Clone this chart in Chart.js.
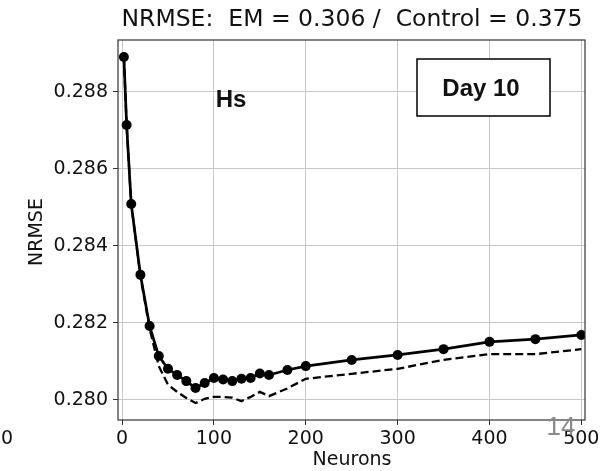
<!DOCTYPE html>
<html>
<head>
<meta charset="utf-8">
<script src="https://cdn.jsdelivr.net/npm/chart.js@4/dist/chart.umd.min.js"></script>
<style>
html,body{margin:0;padding:0;background:#fff;}
#wrap{position:relative;width:605px;height:471px;}
</style>
</head>
<body>
<div id="wrap"><canvas id="c" width="605" height="471"></canvas></div>
<script>
const neurons = [2, 5, 10, 20, 30, 40, 50, 60, 70, 80, 90, 100, 110, 120, 130, 140, 150, 160, 180, 200, 250, 300, 350, 400, 450, 500];
const emNRMSE = [0.28891, 0.28714, 0.28509, 0.28325, 0.28192, 0.28114, 0.28081, 0.28065, 0.28049, 0.28031, 0.28044, 0.28057, 0.28053, 0.28049, 0.28055, 0.28057, 0.28069, 0.28065, 0.28078, 0.28088, 0.28104, 0.28117, 0.28132, 0.28151, 0.28158, 0.28169];
const controlNRMSE = [0.28891, 0.28714, 0.28509, 0.28322, 0.28185, 0.28088, 0.28040, 0.28021, 0.28005, 0.27992, 0.28003, 0.28008, 0.28008, 0.28006, 0.27997, 0.28008, 0.28021, 0.28010, 0.28030, 0.28055, 0.28068, 0.28081, 0.28104, 0.28119, 0.28119, 0.28132];
const xTicks = [0, 100, 200, 300, 400, 500];
const yTicks = [0.280, 0.282, 0.284, 0.286, 0.288];
const titleText = "NRMSE:  EM = 0.306 /  Control = 0.375";
const xLabel = "Neurons";
const yLabel = "NRMSE";
const varLabel = "Hs";
const dayLabel = "Day 10";
const pageNum = "14";

const FONT = "'DejaVu Sans', sans-serif";
const BOLD = "'Liberation Sans', Arial, sans-serif";

const decor = {
  id: 'decor',
  afterDraw(chart) {
    const ctx = chart.ctx;
    const a = chart.chartArea;
    ctx.save();
    ctx.strokeStyle = '#333';
    ctx.lineWidth = 1.2;
    ctx.strokeRect(a.left, a.top, a.right - a.left, a.bottom - a.top);
    ctx.fillStyle = '#111';
    ctx.font = "23.5px " + FONT;
    ctx.textAlign = 'center';
    ctx.textBaseline = 'middle';
    ctx.fillText(titleText, 352, 20);
    ctx.font = "19px " + FONT;
    ctx.fillText(xLabel, 352, 460);
    ctx.save();
    ctx.translate(37, 232);
    ctx.rotate(-Math.PI / 2);
    ctx.fillText(yLabel, 0, 0);
    ctx.restore();
    ctx.fillText("0", 7, 439);
    ctx.font = "bold 24px " + BOLD;
    ctx.fillText(varLabel, 231, 100);
    ctx.fillStyle = '#fff';
    ctx.fillRect(417, 59, 133, 57);
    ctx.strokeStyle = '#000';
    ctx.lineWidth = 1.5;
    ctx.strokeRect(417, 59, 133, 57);
    ctx.fillStyle = '#111';
    ctx.font = "bold 24px " + BOLD;
    ctx.fillText(dayLabel, 481, 89);
    ctx.fillStyle = '#8a8a8a';
    ctx.font = "26px " + BOLD;
    ctx.fillText(pageNum, 561, 428);
    ctx.restore();
  }
};

new Chart(document.getElementById('c'), {
  type: 'line',
  data: {
    datasets: [
      {
        label: 'EM',
        data: neurons.map((x, i) => ({x: x, y: emNRMSE[i]})),
        borderColor: '#000',
        backgroundColor: '#000',
        borderWidth: 2.7,
        pointRadius: 5,
        pointHoverRadius: 5,
        pointBackgroundColor: '#000',
        pointBorderWidth: 0,
        tension: 0,
        order: 1
      },
      {
        label: 'Control',
        data: neurons.map((x, i) => ({x: x, y: controlNRMSE[i]})),
        borderColor: '#000',
        borderWidth: 2.3,
        borderDash: [8, 4],
        pointRadius: 0,
        tension: 0,
        order: 2
      }
    ]
  },
  options: {
    responsive: false,
    animation: false,
    layout: {padding: {top: 40, right: 20, left: 0, bottom: 0}},
    plugins: {legend: {display: false}, title: {display: false}, tooltip: {enabled: false}},
    scales: {
      x: {
        type: 'linear',
        min: -4.4,
        max: 504,
        afterFit: (axis) => { axis.height = 51; },
        afterBuildTicks: (axis) => { axis.ticks = xTicks.map(v => ({value: v})); },
        grid: {color: '#c8c8c8', lineWidth: 1, tickColor: '#333', tickLength: 5, drawTicks: true},
        border: {display: false},
        ticks: {color: '#111', font: {family: FONT, size: 19}, padding: 3, maxRotation: 0,
                callback: (v) => String(v)}
      },
      y: {
        type: 'linear',
        min: 0.27948,
        max: 0.28935,
        afterFit: (axis) => { axis.width = 118; },
        afterBuildTicks: (axis) => { axis.ticks = yTicks.map(v => ({value: v})); },
        grid: {color: '#c8c8c8', lineWidth: 1, tickColor: '#333', tickLength: 5, drawTicks: true},
        border: {display: false},
        ticks: {color: '#111', font: {family: FONT, size: 19}, padding: 5,
                callback: (v) => v.toFixed(3)}
      }
    }
  },
  plugins: [decor]
});
</script>
</body>
</html>
